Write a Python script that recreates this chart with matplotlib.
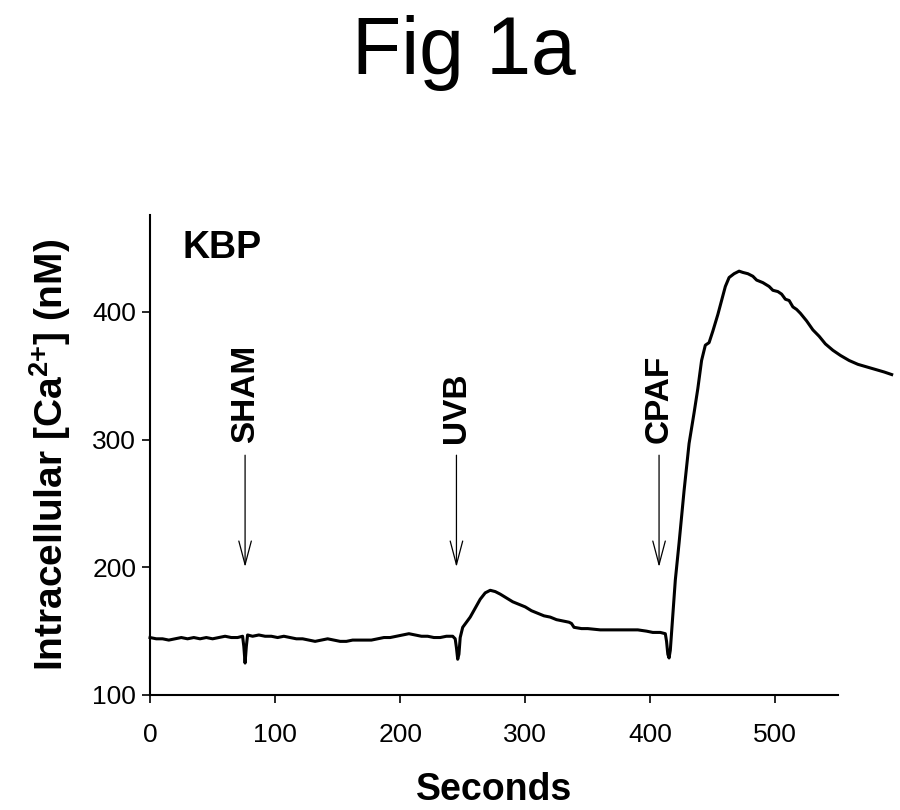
import matplotlib
matplotlib.use("Agg")
import matplotlib.pyplot as plt

plt.rcParams['font.family'] = ['Liberation Sans', 'DejaVu Sans']
plt.rcParams['mathtext.fontset'] = 'custom'
plt.rcParams['mathtext.rm'] = 'Liberation Sans'
plt.rcParams['mathtext.bf'] = 'Liberation Sans:bold'

# trace: time (s) and intracellular Ca2+ (nM)
seconds = [0, 5, 10, 15, 20, 25, 30, 35, 40, 45, 50, 55, 60, 65, 70, 74,
           75, 76, 77, 78, 82, 87, 92, 97, 102, 107, 112, 117, 122, 127, 132,
           137, 142, 147, 152, 157, 162, 167, 172, 177, 182, 187, 192, 197,
           202, 207, 212, 217, 222, 227, 232, 237, 242, 244, 245, 246, 247,
           248, 250, 253, 256, 260, 264, 268, 272, 276, 280, 285, 290, 295,
           300, 305, 310, 315, 320, 325, 330, 335, 337, 339, 345, 350, 360,
           370, 380, 390, 397, 402, 408, 412, 413, 414, 415, 416, 420, 423,
           427, 431, 435, 438, 441, 444, 447, 450, 454, 457, 460, 463, 467,
           471, 474, 478, 482, 485, 490, 495, 498, 502, 505, 508, 511, 514,
           517, 520, 525, 530, 535, 540, 546, 552, 559, 566, 573, 580, 587, 593]
calcium = [145, 144, 144, 143, 144, 145, 144, 145, 144, 145, 144, 145, 146, 145, 145, 146,
           138, 125, 138, 147, 146, 147, 146, 146, 145, 146, 145, 144, 144, 143, 142,
           143, 144, 143, 142, 142, 143, 143, 143, 143, 144, 145, 145, 146,
           147, 148, 147, 146, 146, 145, 145, 146, 146, 144, 137, 128, 132,
           145, 153, 157, 161, 168, 175, 180, 182, 181, 179, 176, 173, 171,
           169, 166, 164, 162, 161, 159, 158, 157, 156, 153, 152, 152, 151,
           151, 151, 151, 150, 149, 149, 148, 142, 132, 129, 135, 190, 219,
           260, 297, 321, 340, 362, 374, 376, 385, 398, 409, 420, 427, 430,
           432, 431, 430, 428, 425, 423, 420, 417, 416, 414, 410, 409, 404,
           402, 399, 393, 386, 381, 375, 370, 366, 362, 359, 357, 355, 353, 351]

stim_labels = ["SHAM", "UVB", "CPAF"]
stim_times = [76, 245, 407]

fig = plt.figure(figsize=(9, 8.1), dpi=100)
ax = fig.add_axes([0.1667, 0.142, 0.7643, 0.5926])

ax.plot(seconds, calcium, color='black', lw=2.2, clip_on=False)

for lab, t in zip(stim_labels, stim_times):
    ax.annotate("", xy=(t, 198), xytext=(t, 290),
                arrowprops=dict(arrowstyle='->,head_length=1.7,head_width=0.45',
                                color='black', lw=0.9))
    ax.text(t, 297, lab, rotation=90, ha='center', va='bottom',
            fontsize=24, fontweight='bold')

ax.text(26, 450, "KBP", fontsize=27, fontweight='bold', va='center')

ax.set_xlim(0, 550)
ax.set_ylim(100, 476)
ax.set_xticks([0, 100, 200, 300, 400, 500])
ax.set_yticks([100, 200, 300, 400])
ax.tick_params(labelsize=19, length=6, width=1.2, direction='out')
ax.tick_params(axis='x', pad=14)
ax.tick_params(axis='y', pad=4)
ax.spines['top'].set_visible(False)
ax.spines['right'].set_visible(False)
ax.spines['left'].set_linewidth(1.5)
ax.spines['bottom'].set_linewidth(1.5)

ax.set_xlabel("Seconds", fontsize=27, fontweight='bold', labelpad=18)
ax.set_ylabel(r"Intracellular [Ca$\mathbf{^{2{+}}}$] (nM)", fontsize=28,
              fontweight='bold', labelpad=14)

fig.text(0.515, 0.935, "Fig 1a", fontsize=58, ha='center', va='center')

fig.savefig("out.png", dpi=100)
